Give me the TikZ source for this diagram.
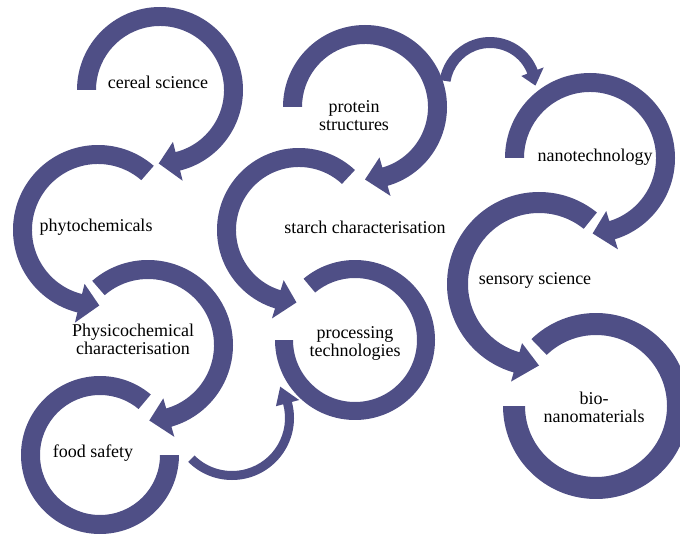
\documentclass[tikz,border=0pt]{standalone}
\usepackage{fontspec}
\setmainfont{Liberation Serif}
\usetikzlibrary{calc}

\definecolor{ringblue}{RGB}{79,79,134}

\begin{document}
\begin{tikzpicture}[
    x=1pt, y=1pt,
    topic/.style={align=center, inner sep=0pt, font=\fontsize{18}{18}\selectfont},
    ring/.style={fill=ringblue}
]
\useasboundingbox (0,0) rectangle (680,-537);

% Ring centres
\coordinate (cereal-c) at (160,-90);
\coordinate (protein-c) at (365,-107);
\coordinate (nano-c) at (590,-158);
\coordinate (phyto-c) at (98,-230);
\coordinate (starch-c) at (299,-230);
\coordinate (sensory-c) at (539,-284);
\coordinate (physico-c) at (148,-345);
\coordinate (proc-c) at (355,-340);
\coordinate (food-c) at (100,-455);
\coordinate (bio-c) at (596,-406);
\coordinate (jump-a) at (232,-418);
\coordinate (jump-b) at (490,-88);

% Rings and links with arrow heads: centre/start/base/tip/inner/outer/half head
\foreach \ctr/\from/\base/\tip/\rin/\rout/\hw in {
    cereal-c/180/-76/-91/64/83/20, protein-c/180/-74/-90/63/82/20,
    nano-c/180/-73/-88/66/85/20, phyto-c/49/256/271/66/85/20,
    starch-c/47/253/268/63/82/20, sensory-c/51/254/270/71/92/20,
    physico-c/131/-74/-89/66/85/20,
    jump-a/225/375/393/53/62/12, jump-b/171/21/3/40/51/12}{
  \pgfmathsetmacro\rmid{(\rin+\rout)/2}
  \pgfmathsetmacro\rhi{\rmid+\hw}
  \pgfmathsetmacro\rlo{\rmid-\hw}
  \fill[ring] ($(\ctr)+(\from:\rout)$) arc[start angle=\from, end angle=\base, radius=\rout]
    -- ($(\ctr)+(\base:\rhi)$) -- ($(\ctr)+(\tip:\rmid)$) -- ($(\ctr)+(\base:\rlo)$)
    -- ($(\ctr)+(\base:\rin)$) arc[start angle=\base, end angle=\from, radius=\rin] -- cycle;
}

% Open rings: centre/start/end/inner/outer
\foreach \ctr/\from/\upto/\rin/\rout in {
    food-c/50/360/60/79, proc-c/130/-180/62/80, bio-c/134/-180/71/93}{
  \fill[ring] ($(\ctr)+(\from:\rout)$) arc[start angle=\from, end angle=\upto, radius=\rout]
    -- ($(\ctr)+(\upto:\rin)$) arc[start angle=\upto, end angle=\from, radius=\rin] -- cycle;
}

% Labels
\node[topic] (cereal) at (158,-82) {cereal science};
\node[topic] (protein) at (354,-116) {protein\\structures};
\node[topic] (nano) at (595,-157) {nanotechnology};
\node[topic] (phyto) at (96,-227) {phytochemicals};
\node[topic] (starch) at (365,-227) {starch characterisation};
\node[topic] (sensory) at (535,-280) {sensory science};
\node[topic] (physico) at (133,-339) {Physicochemical\\characterisation};
\node[topic] (processing) at (355,-343) {processing\\technologies};
\node[topic] (food) at (93,-453) {food safety};
\node[topic] (bio) at (594,-407) {bio-\\nanomaterials};

\end{tikzpicture}
\end{document}
